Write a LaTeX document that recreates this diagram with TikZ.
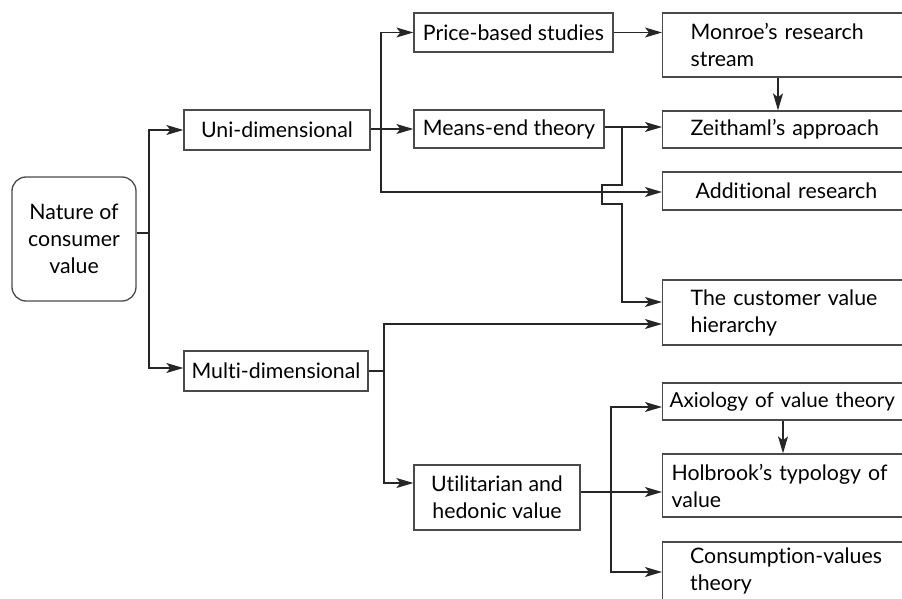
\documentclass[tikz,border=0pt]{standalone}
\usepackage{fontspec}
\setmainfont{Lato}[Ligatures={NoCommon}]
\usetikzlibrary{arrows.meta}
\definecolor{ln}{HTML}{262626}
\definecolor{bx}{HTML}{4a4a4a}
\tikzset{
  box/.style={draw=bx, line width=1.3pt, fill=white, inner sep=0pt, font=\fontsize{21.3}{27}\selectfont},
  cbox/.style={box, align=center},
  rbox/.style={box, anchor=west, align=left, text width=#1},
  arr/.style={draw=ln, line width=1.2pt, -{Stealth[length=17pt,width=10pt,inset=4pt]}},
  ln/.style={draw=ln, line width=1.2pt}
}
\begin{document}
\begin{tikzpicture}[x=1pt,y=-1pt]
\useasboundingbox (0,0) rectangle (902,599);
\clip (0,0) rectangle (902,599);
% left
\node[cbox, rounded corners=14pt, minimum width=124pt, minimum height=124pt] (nat) at (74,239) {Nature of\\consumer\\value};
\node[cbox, minimum width=186pt, minimum height=40pt] (uni) at (277,130) {Uni-dimensional};
\node[cbox, minimum width=184pt, minimum height=40pt] (multi) at (276,371) {Multi-dimensional};
% middle
\node[cbox, minimum width=199pt, minimum height=39pt] (price) at (513.5,32.5) {Price-based studies};
\node[cbox, minimum width=190pt, minimum height=38pt] (means) at (509,129) {Means-end theory};
\node[cbox, minimum width=166pt, minimum height=65pt] (util) at (497,497.5) {Utilitarian and\\hedonic value};
% right
\node[rbox=220pt, minimum height=64pt, inner xsep=28pt] (monroe) at (662,45) {Monroe's research\\stream};
\node[rbox=220pt, minimum height=37pt, inner xsep=28pt] (zeit) at (662,129.5) {Zeithaml's approach};
\node[rbox=210pt, minimum height=38pt, inner xsep=33pt] (addl) at (662,191) {Additional research};
\node[rbox=220pt, minimum height=65pt, inner xsep=28pt] (cvh) at (662,312.5) {The customer value\\hierarchy};
\node[rbox=260pt, minimum height=37pt, inner xsep=7pt, font=\fontsize{20.6}{27}\selectfont] (axio) at (662,401.5) {Axiology of value theory};
\node[rbox=260pt, minimum height=63pt, inner xsep=9pt] (holb) at (662,485.5) {Holbrook's typology of\\value};
\node[rbox=220pt, minimum height=80pt, inner xsep=28pt] (cons) at (662,582) {};
\node[anchor=north west, align=left, inner sep=0pt, font=\fontsize{21.3}{27}\selectfont] (constxt) at (690,548) {Consumption-values\\theory};
% junctions
\coordinate (j1) at (149,233);
\coordinate (j2) at (381,129);
\coordinate (j3) at (622,127);
\coordinate (b1) at (622,185);
\coordinate (b2) at (602,185);
\coordinate (b3) at (602,204);
\coordinate (b4) at (622,204);
\coordinate (j4) at (384,371);
\coordinate (j5) at (611,492);
% connectors
\draw[ln] (nat.east |- j1) -- (j1);
\draw[arr] (j1) |- (uni.west);
\draw[arr] (j1) |- (multi.west |- 0,368);
\draw[ln] (uni.east |- j2) -- (j2);
\draw[arr] (j2) |- (price.west);
\draw[arr] (j2) |- (means.west);
\draw[arr] (j2) |- (addl.west |- 0,192);
\draw[arr] (price.east) -- (price.east -| monroe.west);
\draw[arr] (monroe.south -| 778,0) -- (zeit.north -| 778,0);
\draw[ln] (means.east |- j3) -- (j3);
\draw[arr] (j3) -- (zeit.west |- j3);
\draw[arr] (j3) -- (b1) -- (b2) -- (b3) -- (b4) |- (cvh.west |- 0,302);
\draw[ln] (multi.east |- j4) -- (j4);
\draw[arr] (j4) |- (cvh.west |- 0,324);
\draw[arr] (j4) |- (util.west |- 0,483);
\draw[arr] (util.east |- j5) -- (holb.west |- j5);
\draw[arr] (j5) |- (axio.west |- 0,407);
\draw[arr] (j5) |- (cons.west |- 0,572);
\draw[arr] (axio.south -| 783,0) -- (holb.north -| 783,0);
\end{tikzpicture}
\end{document}
